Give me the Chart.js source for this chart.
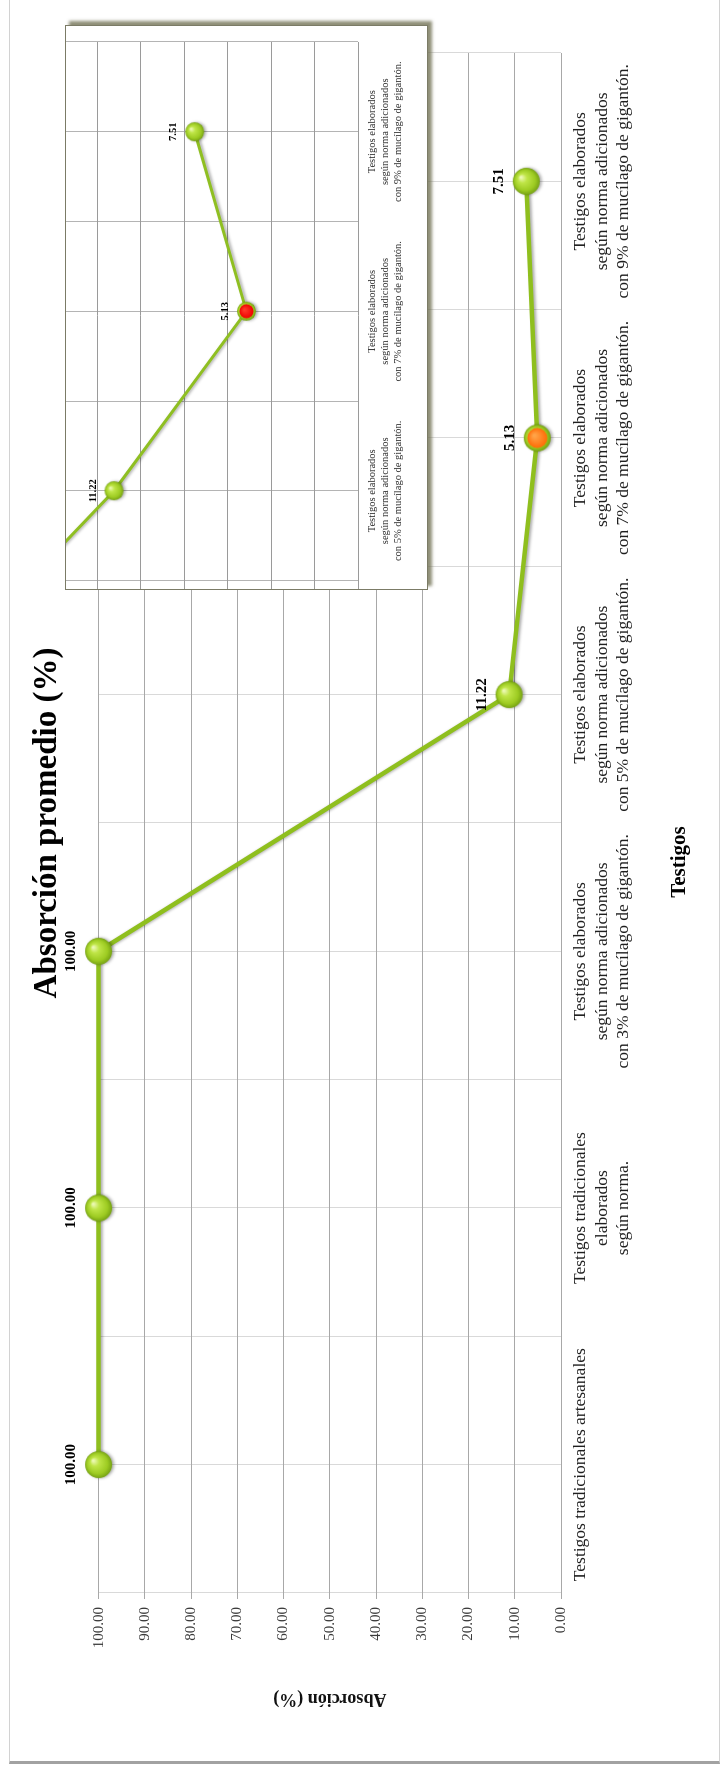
<!DOCTYPE html>
<html lang="es">
<head>
<meta charset="utf-8">
<title>Absorción promedio (%)</title>
<script src="https://cdn.jsdelivr.net/npm/chart.js@4.4.1/dist/chart.umd.min.js"></script>
<style>
  html, body { margin: 0; padding: 0; background: #fff; overflow: hidden; }
  body { width: 720px; height: 1774px; position: relative; }
  /* the whole sheet is laid out landscape and turned a quarter turn */
  #sheet { position: absolute; left: 0; top: 0; width: 1774px; height: 720px;
           transform-origin: 0 0; transform: translate(0, 1774px) rotate(-90deg); }
  #frame { position: absolute; left: 10px; top: 9px; width: 1800px; height: 711px;
           box-sizing: border-box; border-top: 1px solid #d2d2d2; border-bottom: 1px solid #d2d2d2;
           border-left: 3px solid #a2a2a2; }
  #main { position: absolute; left: 0; top: 0; }
  #insetBox { position: absolute; left: 1184px; top: 65px; width: 565px; height: 363px;
              box-sizing: border-box; border: 1px solid #7b7b66; background: #fff;
              box-shadow: 4px 4px 3px rgba(105, 105, 75, 0.75); }
  #inset { position: absolute; left: 0; top: 0; }
</style>
</head>
<body>
<div id="sheet">
  <div id="frame"></div>
  <canvas id="main" width="1774" height="720"></canvas>
  <div id="insetBox"><canvas id="inset" width="563" height="361"></canvas></div>
</div>
<script>
// ---- data ----
const categories = [
  ['Testigos tradicionales artesanales'],
  ['Testigos tradicionales', 'elaborados', 'según norma.'],
  ['Testigos elaborados', 'según norma adicionados', 'con 3% de mucílago de gigantón.'],
  ['Testigos elaborados', 'según norma adicionados', 'con 5% de mucílago de gigantón.'],
  ['Testigos elaborados', 'según norma adicionados', 'con 7% de mucílago de gigantón.'],
  ['Testigos elaborados', 'según norma adicionados', 'con 9% de mucílago de gigantón.']
];
const absorption = [100, 100, 100, 11.22, 5.13, 7.51];
const valueTicks = [0, 10, 20, 30, 40, 50, 60, 70, 80, 90, 100];

// detail view of the last mixes
const insetIndices = [2, 3, 4, 5];
const insetAbsorption = [19.1, 11.22, 5.13, 7.51];
const insetValueTicks = [0, 2, 4, 6, 8, 10, 12];

const highlightIndex = 4;   // 7% mix, drawn with a coloured core

const SERIF = '"Liberation Serif", "Times New Roman", serif';
Chart.defaults.font.family = SERIF;
Chart.defaults.color = '#262626';

// category positions plus the boundaries between them
const halfSteps = categories.flatMap((_, i) => [i - 0.5, i]).concat(categories.length - 0.5);

// glossy marker bitmaps
function ball(r, core, ring) {
  const s = Math.ceil(r * 2) + 4;
  const c = document.createElement('canvas');
  c.width = s; c.height = s;
  const g = c.getContext('2d');
  const m = s / 2;
  const body = g.createRadialGradient(m + r * 0.3, m - r * 0.4, r * 0.05, m, m, r);
  body.addColorStop(0, '#ecf9b4');
  body.addColorStop(0.3, '#bfe547');
  body.addColorStop(0.75, '#9dcb22');
  body.addColorStop(1, '#76a214');
  g.fillStyle = body;
  g.beginPath(); g.arc(m, m, r, 0, Math.PI * 2); g.fill();
  if (core) {
    const ir = r - ring;
    const cg = g.createRadialGradient(m + ir * 0.25, m - ir * 0.3, ir * 0.1, m, m, ir);
    cg.addColorStop(0, core[0]);
    cg.addColorStop(1, core[1]);
    g.fillStyle = cg;
    g.beginPath(); g.arc(m, m, ir, 0, Math.PI * 2); g.fill();
  }
  return c;
}
const greenBall = ball(13.5);
const orangeBall = ball(13.5, ['#ffa448', '#ff6c06'], 3.5);
const greenSmall = ball(9.5);
const redSmall = ball(9.5, ['#ff3a2a', '#f00000'], 2.5);

// soft drop shadow under the series
const seriesShadow = {
  id: 'seriesShadow',
  beforeDatasetsDraw(chart) {
    const ctx = chart.ctx;
    ctx.save();
    ctx.shadowColor = 'rgba(0,0,0,0.32)';
    ctx.shadowBlur = 3;
    ctx.shadowOffsetX = 0;
    ctx.shadowOffsetY = 2;
  },
  afterDatasetsDraw(chart) { chart.ctx.restore(); }
};

// value written above each marker
const valueLabels = {
  id: 'valueLabels',
  afterDatasetsDraw(chart, args, opts) {
    const {ctx, chartArea} = chart;
    const ds = chart.data.datasets[0];
    const meta = chart.getDatasetMeta(0);
    ctx.save();
    ctx.font = opts.font;
    ctx.fillStyle = '#000';
    ctx.textAlign = 'center';
    ctx.textBaseline = 'middle';
    meta.data.forEach((el, i) => {
      if (el.x < chartArea.left - 1 || el.y < chartArea.top - 1) return;
      ctx.fillText(ds.data[i].y.toFixed(2), el.x, el.y - opts.offset);
    });
    ctx.restore();
  }
};

// category axis caption
const axisCaption = {
  id: 'axisCaption',
  afterDraw(chart, args, opts) {
    const {ctx, chartArea} = chart;
    ctx.save();
    ctx.font = 'bold 21px ' + SERIF;
    ctx.fillStyle = '#000';
    ctx.textAlign = 'center';
    ctx.textBaseline = 'middle';
    ctx.fillText(opts.text, (chartArea.left + chartArea.right) / 2 + opts.shift, opts.y);
    ctx.restore();
  }
};

const markerFor = (hi, normal) => ctx => (ctx.raw && ctx.raw.x === highlightIndex ? hi : normal);
const categoryLabel = v => (Number.isInteger(v) && categories[v] ? categories[v] : '');

// ---- main chart ----
new Chart(document.getElementById('main'), {
  type: 'line',
  data: {
    datasets: [{
      data: absorption.map((v, i) => ({x: i, y: v})),
      borderColor: '#8fbf1e',
      borderWidth: 4.5,
      pointRadius: 13.5,
      pointStyle: markerFor(orangeBall, greenBall),
      tension: 0,
      clip: false
    }]
  },
  options: {
    responsive: false,
    animation: false,
    devicePixelRatio: 1,
    events: [],
    layout: {autoPadding: false, padding: {left: 0, top: 0, right: 53, bottom: 0}},
    scales: {
      x: {
        type: 'linear', bounds: 'data', min: -0.5, max: 5.5,
        afterBuildTicks: s => { s.ticks = halfSteps.map(v => ({value: v})); },
        afterFit: s => { s.height = 159; },
        ticks: {autoSkip: false, maxRotation: 0, minRotation: 0, padding: 9,
                font: {size: 17.5, lineHeight: 1.23}, color: '#1f1f1f', callback: categoryLabel},
        grid: {color: '#d9d9d9', drawTicks: false},
        border: {display: false}
      },
      y: {
        bounds: 'data', min: 0, max: 100,
        afterBuildTicks: s => { s.ticks = valueTicks.map(v => ({value: v})); },
        afterFit: s => { s.width = 181; },
        ticks: {padding: 8, font: {size: 15}, color: '#3a3a3a', callback: v => v.toFixed(2)},
        grid: {color: '#a8a8a8', tickLength: 6},
        border: {display: false},
        title: {display: true, text: 'Absorción (%)', color: '#111',
                font: {size: 18, weight: 'bold'}, padding: {top: 65, bottom: 0}}
      }
    },
    plugins: {
      legend: {display: false},
      tooltip: {enabled: false},
      title: {display: true, fullSize: false, text: 'Absorción promedio (%)', color: '#000',
              font: {size: 33, weight: 'bold'}, padding: {top: 28, bottom: 31}},
      valueLabels: {font: 'bold 15px ' + SERIF, offset: 27},
      axisCaption: {text: 'Testigos', shift: -39, y: 680}
    }
  },
  plugins: [seriesShadow, valueLabels, axisCaption]
});

// ---- detail chart ----
new Chart(document.getElementById('inset'), {
  type: 'line',
  data: {
    datasets: [{
      data: insetAbsorption.map((v, i) => ({x: insetIndices[i], y: v})),
      borderColor: '#8fbf22',
      borderWidth: 3,
      pointRadius: 9.5,
      pointStyle: markerFor(redSmall, greenSmall),
      tension: 0
    }]
  },
  options: {
    responsive: false,
    animation: false,
    devicePixelRatio: 1,
    events: [],
    layout: {autoPadding: false, padding: {left: 0, top: 0, right: 16, bottom: 0}},
    scales: {
      x: {
        type: 'linear', bounds: 'data', min: 2.453, max: 5.5,
        afterBuildTicks: s => { s.ticks = halfSteps.filter(v => v >= 2.5).map(v => ({value: v})); },
        afterFit: s => { s.height = 69; },
        ticks: {autoSkip: false, maxRotation: 0, minRotation: 0, padding: 7.5,
                font: {size: 10.5, lineHeight: 1.238}, color: '#333', callback: categoryLabel},
        grid: {color: '#b4b4b4', drawTicks: false},
        border: {display: false}
      },
      y: {
        bounds: 'data', min: 0, max: 13.43,
        afterBuildTicks: s => { s.ticks = insetValueTicks.map(v => ({value: v})); },
        afterFit: s => { s.width = 0; },
        ticks: {display: false},
        grid: {color: '#9a9a9a', drawTicks: false},
        border: {display: false}
      }
    },
    plugins: {
      legend: {display: false},
      tooltip: {enabled: false},
      valueLabels: {font: 'bold 10.5px ' + SERIF, offset: 21}
    }
  },
  plugins: [seriesShadow, valueLabels]
});
</script>
</body>
</html>
